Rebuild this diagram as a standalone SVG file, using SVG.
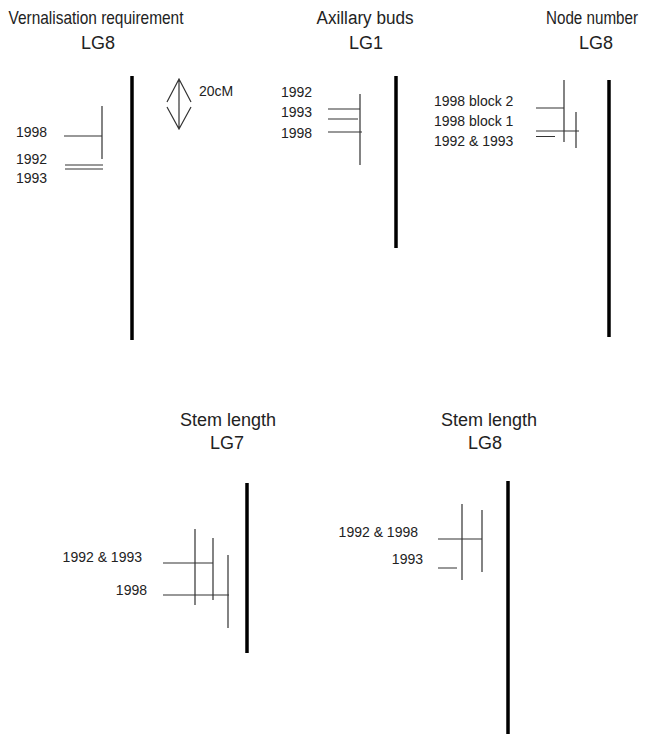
<svg xmlns="http://www.w3.org/2000/svg" width="645" height="734" viewBox="0 0 645 734">
<style>
.title{font-family:"Liberation Sans",Arial,sans-serif;font-size:18px;fill:#222;text-anchor:middle}
.big{font-size:19px}
.lab{font-family:"Liberation Sans",Arial,sans-serif;font-size:14px;fill:#222}
.r{text-anchor:end}
.bar{stroke:#000;stroke-width:3.5;fill:none}
.q{stroke:#333;stroke-width:1.2;fill:none}
</style>
<rect width="645" height="734" fill="#fff"/>
<g id="vernalisation-LG8">
<text class="title big" transform="translate(96,24) scale(0.813,1)">Vernalisation requirement</text>
<text class="title" x="98" y="49">LG8</text>
<line class="bar" x1="132" y1="76" x2="132" y2="340"/>
<text class="lab" x="16" y="137">1998</text>
<text class="lab" x="16" y="164">1992</text>
<text class="lab" x="16" y="183">1993</text>
</g>
<g id="scale">
<path class="q" d="M179 79V129M167 102L179 79L191 102M167 107L179 129L191 107"/>
<text class="lab" x="199" y="96">20cM</text>
</g>
<g id="axillary-LG1">
<text class="title big" transform="translate(365,24) scale(0.9,1)">Axillary buds</text>
<text class="title" x="366" y="49">LG1</text>
<line class="bar" x1="396" y1="76" x2="396" y2="248"/>
<text class="lab" x="281" y="97">1992</text>
<text class="lab" x="281" y="117">1993</text>
<text class="lab" x="281" y="138">1998</text>
</g>
<g id="node-LG8">
<text class="title big" transform="translate(592,24) scale(0.8,1)">Node number</text>
<text class="title" x="596" y="49">LG8</text>
<line class="bar" x1="609" y1="80" x2="609" y2="337"/>
<text class="lab" x="434" y="106">1998 block 2</text>
<text class="lab" x="434" y="126">1998 block 1</text>
<text class="lab" x="434" y="146">1992 &amp; 1993</text>
</g>
<g id="stem-LG7">
<text class="title" x="228" y="426">Stem length</text>
<text class="title" x="227" y="449">LG7</text>
<line class="bar" x1="247" y1="483" x2="247" y2="653"/>
<text class="lab r" x="142" y="562">1992 &amp; 1993</text>
<text class="lab r" x="147" y="595">1998</text>
</g>
<g id="stem-LG8">
<text class="title" x="489" y="426">Stem length</text>
<text class="title" x="485" y="449">LG8</text>
<line class="bar" x1="508" y1="481" x2="508" y2="734"/>
<text class="lab r" x="418" y="537">1992 &amp; 1998</text>
<text class="lab r" x="423" y="564">1993</text>
</g>
<g id="connectors">
<path class="q" d="M102 106V159M64 136H102M65 165H103M65 169H103"/>
<path class="q" d="M360 94V165M328 109H360M328 119H358M328 132H362"/>
<path class="q" d="M564 80V142M576 112V148M536 108H564M536 131H579M536 136.5H555"/>
<path class="q" d="M195 529V605M213 538V600M228 555V628M163 563H213M163 595H229"/>
<path class="q" d="M462 504V580M482 510V572M438 539H482M438 568H457"/>
</g>
</svg>
